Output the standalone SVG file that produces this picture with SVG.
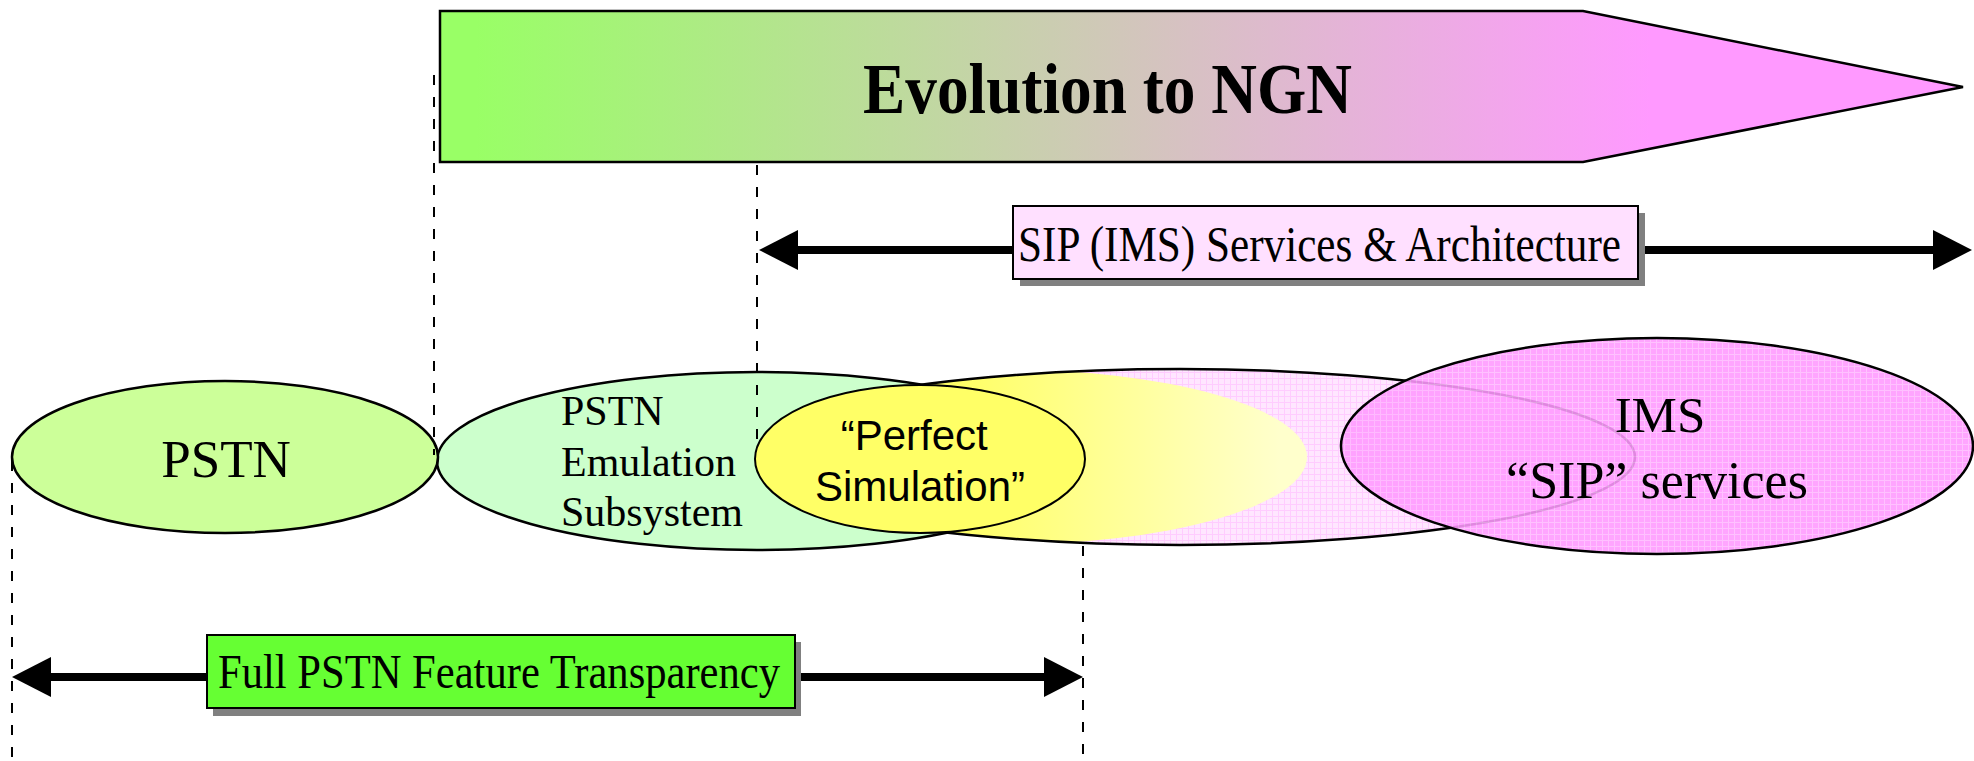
<svg xmlns="http://www.w3.org/2000/svg" width="1974" height="761" viewBox="0 0 1974 761">
  <defs>
    <style>
      .serif { font-family: "Liberation Serif", "Times New Roman", serif; fill: #000; }
      .sans { font-family: "Liberation Sans", Arial, sans-serif; fill: #000; }
      .outline { fill: none; stroke: #000; stroke-width: 2.5; }
      .dash { stroke: #000; stroke-width: 2; stroke-dasharray: 10 12; fill: none; }
      .shaft { stroke: #000; stroke-width: 8; fill: none; }
      .shadow { fill: #808080; }
      .box { stroke: #000; stroke-width: 2; }
    </style>
    <linearGradient id="evoGrad" gradientUnits="userSpaceOnUse" x1="440" y1="0" x2="1650" y2="0">
      <stop offset="0.03" stop-color="#99FF66"/>
      <stop offset="1" stop-color="#FF99FF"/>
    </linearGradient>
    <linearGradient id="glowGrad" gradientUnits="userSpaceOnUse" x1="960" y1="0" x2="1280" y2="0">
      <stop offset="0" stop-color="#FFFF66"/>
      <stop offset="1" stop-color="#FFFFCC"/>
    </linearGradient>
    <pattern id="gridLight" width="6" height="6" patternUnits="userSpaceOnUse">
      <rect width="6" height="6" fill="#FFE6FF"/>
      <path d="M0 0.5H6M0.5 0V6" stroke="#FFCCFF" stroke-width="1"/>
    </pattern>
    <pattern id="gridDeep" width="6" height="6" patternUnits="userSpaceOnUse">
      <rect width="6" height="6" fill="#FF99FF"/>
      <path d="M0 0.5H6M0.5 0V6" stroke="#FFB8FF" stroke-width="1"/>
    </pattern>
    <clipPath id="ngnClip">
      <ellipse cx="1180" cy="457" rx="455" ry="88"/>
    </clipPath>
    <marker id="head" markerUnits="userSpaceOnUse" markerWidth="40" markerHeight="40" viewBox="0 0 40 40" refX="1" refY="20" orient="auto-start-reverse">
      <path d="M0,0 L39,20 L0,40 Z" fill="#000"/>
    </marker>
  </defs>

  <!-- big evolution arrow -->
  <g id="evolution">
    <polygon points="440,11 1583,11 1963,87 1583,162 440,162" fill="url(#evoGrad)" stroke="#000" stroke-width="2.5"/>
    <text class="serif" x="863" y="113" font-size="72" font-weight="bold" textLength="489" lengthAdjust="spacingAndGlyphs">Evolution to NGN</text>
  </g>

  <!-- NGN region: textured ellipse with yellow glow -->
  <g id="ngn-core">
    <ellipse cx="1180" cy="457" rx="455" ry="88" fill="url(#gridLight)"/>
    <ellipse cx="997" cy="457" rx="310" ry="88" fill="url(#glowGrad)" clip-path="url(#ngnClip)"/>
    <ellipse class="outline" cx="1180" cy="457" rx="455" ry="88"/>
  </g>

  <g id="pstn-emulation">
    <ellipse cx="757" cy="461" rx="320" ry="89" fill="#CCFFCC" stroke="#000" stroke-width="2.5"/>
    <text class="serif" font-size="42">
      <tspan x="561" y="425">PSTN</tspan>
      <tspan x="561" y="476">Emulation</tspan>
      <tspan x="561" y="526">Subsystem</tspan>
    </text>
  </g>

  <g id="pstn">
    <ellipse cx="225" cy="457" rx="213" ry="76" fill="#CCFF99" stroke="#000" stroke-width="2.5"/>
    <text class="serif" x="226" y="477" font-size="53" text-anchor="middle">PSTN</text>
  </g>

  <g id="perfect-simulation">
    <ellipse cx="920" cy="459" rx="165" ry="74" fill="#FFFF66" stroke="#000" stroke-width="2"/>
    <text class="sans" font-size="42" text-anchor="middle">
      <tspan x="920" y="450">“Perfect</tspan>
      <tspan x="920" y="501">Simulation”</tspan>
    </text>
  </g>

  <g id="ims">
    <ellipse cx="1657" cy="446" rx="316" ry="108" fill="url(#gridDeep)" opacity="0.88"/>
    <ellipse class="outline" cx="1657" cy="446" rx="316" ry="108"/>
    <text class="serif" x="1660" y="432" font-size="51" text-anchor="middle">IMS</text>
    <text class="serif" x="1657" y="498" font-size="52" text-anchor="middle">“SIP” services</text>
  </g>

  <!-- guide lines and span arrows -->
  <g id="connectors">
    <line class="dash" x1="434" y1="75" x2="434" y2="455"/>
    <line class="dash" x1="757" y1="165" x2="757" y2="440"/>
    <line class="dash" x1="12" y1="461" x2="12" y2="761"/>
    <line class="dash" x1="1083" y1="546" x2="1083" y2="761"/>
    <line class="shaft" x1="797" y1="250" x2="1934" y2="250" marker-start="url(#head)" marker-end="url(#head)"/>
    <line class="shaft" x1="50" y1="677" x2="1045" y2="677" marker-start="url(#head)" marker-end="url(#head)"/>
  </g>

  <g id="sip-architecture">
    <rect class="shadow" x="1020" y="213" width="625" height="73"/>
    <rect class="box" x="1013" y="206" width="625" height="73" fill="#FFE0FF"/>
    <text class="serif" x="1018" y="261" font-size="50" textLength="603" lengthAdjust="spacingAndGlyphs">SIP (IMS) Services &amp; Architecture</text>
  </g>

  <g id="feature-transparency">
    <rect class="shadow" x="213" y="642" width="588" height="74"/>
    <rect class="box" x="207" y="635" width="588" height="73" fill="#66FF33"/>
    <text class="serif" x="218" y="688" font-size="49" textLength="562" lengthAdjust="spacingAndGlyphs">Full PSTN Feature Transparency</text>
  </g>
</svg>
